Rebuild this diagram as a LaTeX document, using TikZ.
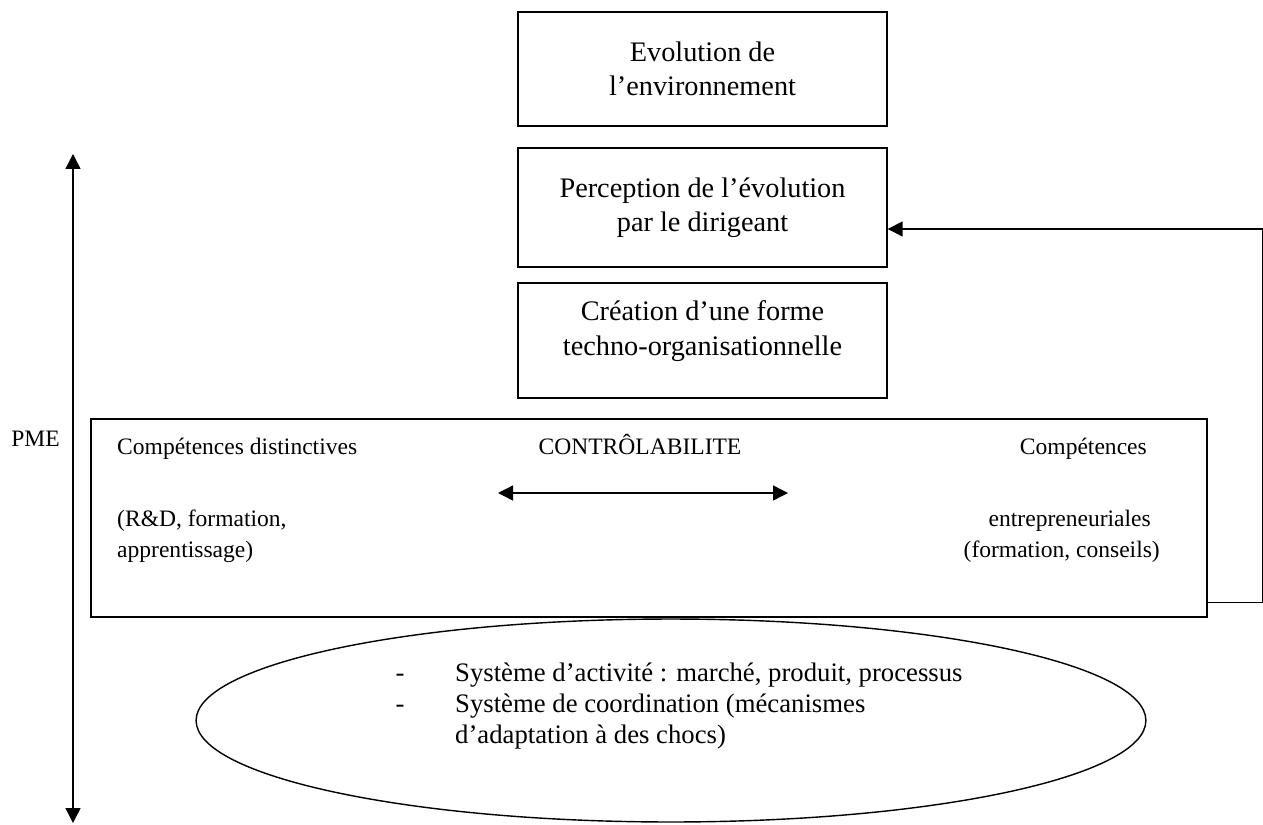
\documentclass[tikz,border=0pt]{standalone}
\usepackage{fontspec}
\setmainfont{Liberation Serif}
\usetikzlibrary{arrows.meta,shapes.geometric}

\begin{document}
\begin{tikzpicture}[x=0.02cm,y=-0.02cm,
    every node/.style={font=\fontsize{13.4}{17}\selectfont},
    box/.style={draw, line width=0.8pt, align=center, minimum width=7.38cm, inner sep=0pt,
        font=\fontsize{16.1}{19.4}\selectfont},
    item/.style={font=\fontsize{15.2}{18}\selectfont},
    tip/.style={-{Triangle[length=0.3cm,width=0.3cm]}},
    tips/.style={{Triangle[length=0.3cm,width=0.3cm]}-{Triangle[length=0.3cm,width=0.3cm]}}]

    % Set bounding box dimensions
    \useasboundingbox (0,0) rectangle (1263,824);

    % Draw the three stacked boxes
    \node[box, minimum height=2.28cm] at (702.5,69) (env) {Evolution de\\l’environnement};
    \node[box, minimum height=2.38cm] at (702.5,207.5) (percep) {Perception de l’évolution\\par le dirigeant};
    \node[box, minimum height=2.3cm, text depth=0.5cm] at (702.5,340.5) (creation) {Création d’une forme\\techno-organisationnelle};

    % Draw PME box
    \node[draw, line width=0.8pt, minimum width=22.32cm, minimum height=3.96cm] at (649,518) (pme) {};

    % Draw texts inside PME box
    \node[anchor=base west] at (111,454) (dist) {Compétences distinctives};
    \node[anchor=base] at (640,454) (ctrl) {CONTRÔLABILITE};
    \node[anchor=base east] at (1153,454) (entre) {Compétences};
    \node[anchor=base west] at (111,526) (rd) {(R\&D, formation,};
    \node[anchor=base west] at (111,557) (appr) {apprentissage)};
    \node[anchor=base east] at (1157,526) (entre2) {entrepreneuriales};
    \node[anchor=base east] at (1166,557) (conseil) {(formation, conseils)};

    % Draw double arrow for controlabilite
    \coordinate (ctrlL) at (498,493);
    \coordinate (ctrlR) at (788,493);
    \draw[tips, line width=0.8pt] (ctrlL) -- (ctrlR);

    % Draw feedback arrow to perception box
    \draw[tip, line width=0.8pt] ([yshift=0.3cm]pme.south east) -- ++(55,0) |- ([yshift=-0.43cm]percep.east);

    % Draw ellipse and its list
    \node[draw, ellipse, line width=0.8pt, minimum width=19cm, minimum height=4.06cm] at (671,720.5) (sys) {};
    \node[item, anchor=base] at (400,681) (d1) {-};
    \node[item, anchor=base] at (400,712) (d2) {-};
    \node[item, anchor=base west] at (449,681) (act) {Système d’activité : marché, produit, processus};
    \node[item, anchor=base west] at (449,712) (coord) {Système de coordination (mécanismes};
    \node[item, anchor=base west] at (449,743) (adapt) {d’adaptation à des chocs)};

    % Draw PME arrow and label
    \coordinate (pmeT) at (73,154);
    \coordinate (pmeB) at (73,823);
    \draw[tips, line width=0.8pt] (pmeB) -- (pmeT);
    \node[anchor=base east] at (66,446) (pmelab) {PME};
\end{tikzpicture}
\end{document}
